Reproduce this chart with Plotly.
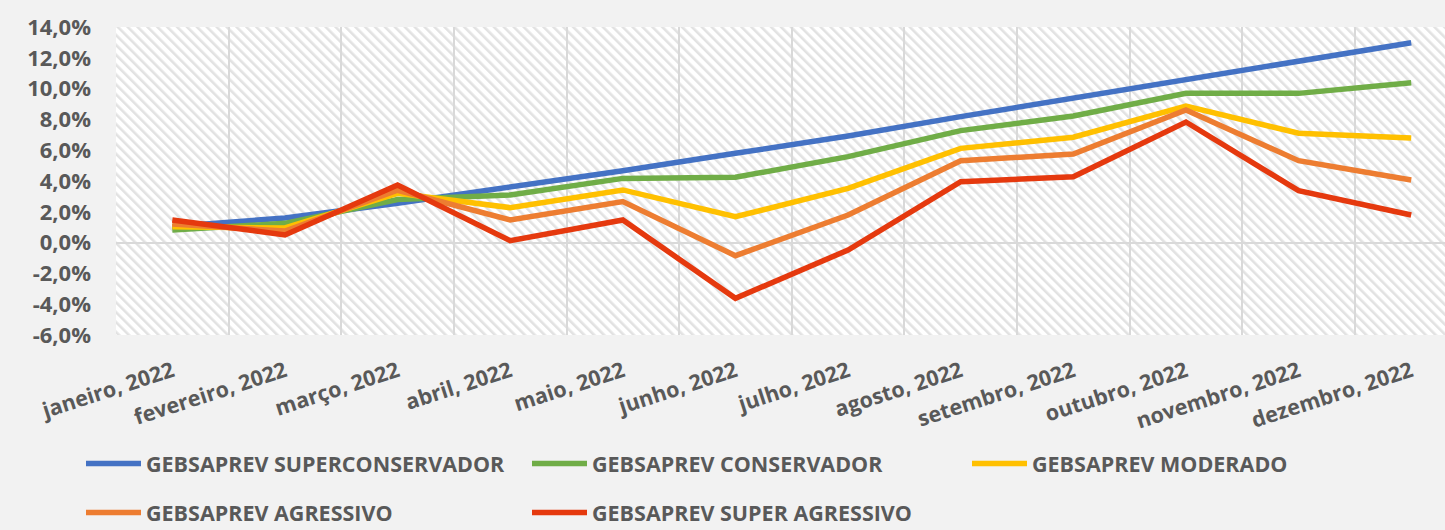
import base64
import plotly.graph_objects as go

months = ["janeiro, 2022", "fevereiro, 2022", "março, 2022", "abril, 2022", "maio, 2022",
          "junho, 2022", "julho, 2022", "agosto, 2022", "setembro, 2022", "outubro, 2022",
          "novembro, 2022", "dezembro, 2022"]

superconservador = [1.05, 1.60, 2.55, 3.58, 4.67, 5.80, 6.92, 8.18, 9.37, 10.62, 11.75, 12.98]
conservador      = [0.82, 1.25, 2.80, 3.09, 4.17, 4.24, 5.58, 7.27, 8.22, 9.69, 9.69, 10.38]
moderado         = [1.03, 0.95, 3.20, 2.27, 3.42, 1.68, 3.52, 6.12, 6.84, 8.87, 7.10, 6.79]
agressivo        = [1.20, 0.75, 3.40, 1.47, 2.66, -0.85, 1.79, 5.32, 5.75, 8.61, 5.32, 4.06]
super_agressivo  = [1.47, 0.50, 3.74, 0.12, 1.47, -3.62, -0.48, 3.95, 4.28, 7.83, 3.37, 1.79]

series_names = ["GEBSAPREV SUPERCONSERVADOR", "GEBSAPREV CONSERVADOR", "GEBSAPREV MODERADO",
                "GEBSAPREV AGRESSIVO", "GEBSAPREV SUPER AGRESSIVO"]
series_values = [superconservador, conservador, moderado, agressivo, super_agressivo]
series_colors = ["#4472C4", "#70AD47", "#FFC000", "#ED7D31", "#E5390E"]
series_legend = ["legend", "legend", "legend3", "legend2", "legend2"]

y_tickvals = [-6, -4, -2, 0, 2, 4, 6, 8, 10, 12, 14]
y_ticktext = ["-6,0%", "-4,0%", "-2,0%", "0,0%", "2,0%", "4,0%", "6,0%", "8,0%", "10,0%", "12,0%", "14,0%"]

W, H = 1445, 530
ML, MR, MT, MB = 116, 0, 27, 195
PW, PH = W - ML - MR, H - MT - MB

FONT = "Open Sans"
TXT = "#595959"
FS = 21.5
BG = "#f2f2f2"

fig = go.Figure()
for name, vals, col, lg in zip(series_names, series_values, series_colors, series_legend):
    fig.add_trace(go.Scatter(x=months, y=vals, name=name, mode="lines",
                             line=dict(color=col, width=5.5), legend=lg))

# hatched plot background
svg = (f"<svg xmlns='http://www.w3.org/2000/svg' width='{PW}' height='{PH}'>"
       "<defs><pattern id='p' width='7' height='7' patternUnits='userSpaceOnUse' patternTransform='rotate(-45)'>"
       "<rect width='7' height='7' fill='white'/><rect width='2.6' height='7' fill='#e2e2e2'/></pattern></defs>"
       f"<rect width='{PW}' height='{PH}' fill='url(#p)'/></svg>")
src = "data:image/svg+xml;base64," + base64.b64encode(svg.encode()).decode()
fig.add_layout_image(dict(source=src, xref="x domain", yref="y domain",
                          x=0, y=1, sizex=1, sizey=1, sizing="stretch", layer="below",
                          xanchor="left", yanchor="top"))

leg_common = dict(orientation="h", xref="container", yref="container", xanchor="left", yanchor="top",
                  entrywidth=376, entrywidthmode="pixels", bgcolor="rgba(0,0,0,0)",
                  font=dict(family=FONT, size=FS, color=TXT, weight="bold"), itemwidth=55)

fig.update_layout(
    width=W, height=H,
    margin=dict(l=ML, r=MR, t=MT, b=MB),
    paper_bgcolor=BG, plot_bgcolor="white",
    font=dict(family=FONT, color=TXT, size=FS, weight="bold"),
    xaxis=dict(range=[-0.5, 11.3], tickson="boundaries", showgrid=True, gridcolor="#d9d9d9",
               gridwidth=2, ticks="", tickangle=-18, showline=False, zeroline=False,
               automargin=False, ticklabelstandoff=19,
               tickfont=dict(family=FONT, size=FS, color=TXT, weight="bold")),
    yaxis=dict(range=[-6, 14], tickvals=y_tickvals, ticktext=y_ticktext, showgrid=False,
               zeroline=True, zerolinecolor="#d9d9d9", zerolinewidth=2, ticks="",
               automargin=False, ticklabelstandoff=24,
               tickfont=dict(family=FONT, size=22, color=TXT, weight="bold")),
    legend=dict(x=81 / W, y=1 - 443 / H, **leg_common),
    legend3=dict(x=(81 + 886) / W, y=1 - 443 / H, **leg_common),
    legend2=dict(x=81 / W, y=1 - 492 / H, **leg_common),
)

fig.write_html("out.html", config={"displayModeBar": False},
               post_script="document.body.style.margin='0';document.body.style.background='%s';" % BG)
